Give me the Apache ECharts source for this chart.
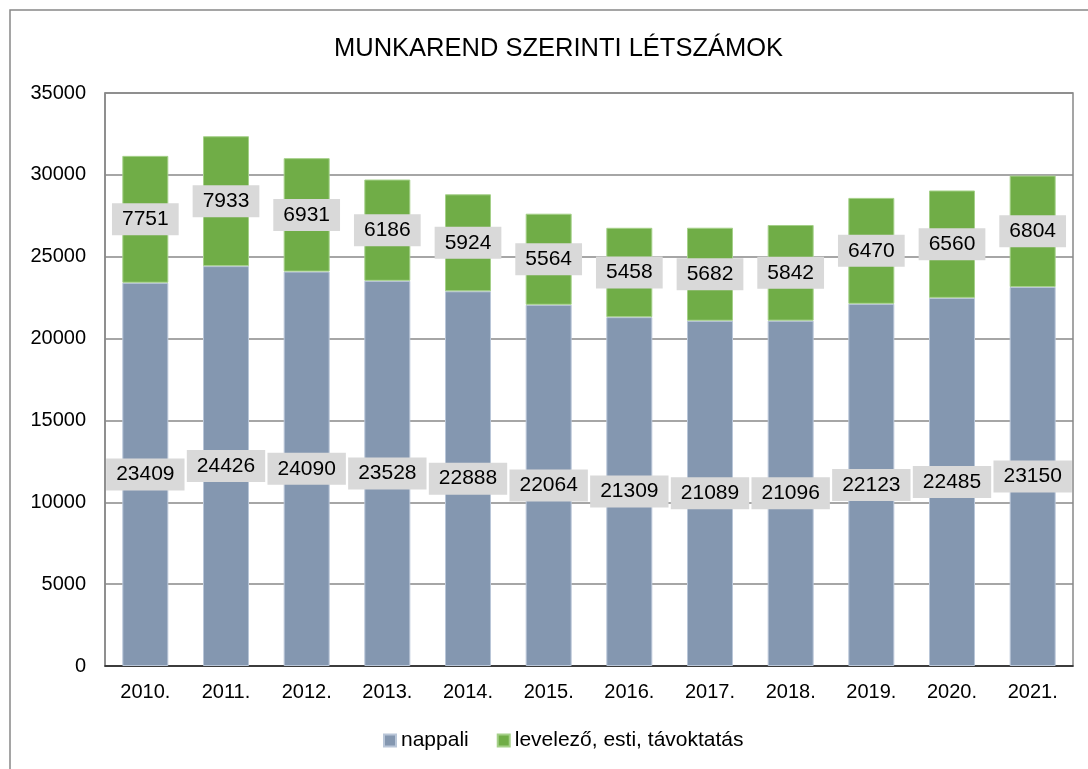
<!DOCTYPE html>
<html>
<head>
<meta charset="utf-8">
<script src="https://cdn.jsdelivr.net/npm/echarts@6/dist/echarts.min.js"></script>
<style>
html,body{margin:0;padding:0;background:#fff;}
#chart{width:1088px;height:769px;}
</style>
</head>
<body>
<div id="chart"></div>
<script>
// évek
var years = ['2010.','2011.','2012.','2013.','2014.','2015.','2016.','2017.','2018.','2019.','2020.','2021.'];
// nappali tagozat
var nappali = [23409,24426,24090,23528,22888,22064,21309,21089,21096,22123,22485,23150];
// levelező, esti, távoktatás
var levelezo = [7751,7933,6931,6186,5924,5564,5458,5682,5842,6470,6560,6804];

var chart = echarts.init(document.getElementById('chart'));
var font = 'Liberation Sans, Arial, sans-serif';
var lbl = {
	show: true, position: 'inside', color: '#000', fontSize: 21, fontFamily: font,
	backgroundColor: '#d9d9d9', padding: [7, 10, 4, 10]
};
var option = {
	animation: false,
	title: {text: 'MUNKAREND SZERINTI LÉTSZÁMOK', left: 329, top: 31,
		textStyle: {fontSize: 25.5, fontWeight: 'normal', color: '#000', fontFamily: font}},
	legend: {left: 378, bottom: 13, itemWidth: 12, itemHeight: 12, itemGap: 28,
		icon: 'rect',
		textStyle: {fontSize: 21, color: '#000', fontFamily: font},
		data: ['nappali', 'levelező, esti, távoktatás']},
	graphic: [{type: 'rect', shape: {x: 10, y: 10, width: 1100, height: 800},
		style: {fill: 'none', stroke: '#888', lineWidth: 1.5}}],
	grid: {left: 105, right: 15, top: 93, bottom: 103, show: true, borderColor: '#888', borderWidth: 1.5},
	xAxis: {type: 'category', data: years,
		axisLine: {lineStyle: {color: '#222', width: 1.5}}, axisTick: {show: false},
		axisLabel: {fontSize: 20, color: '#000', fontFamily: font, margin: 16}},
	yAxis: {type: 'value', min: 0, max: 35000, interval: 5000,
		axisLine: {show: true, lineStyle: {color: '#888', width: 1.5}},
		splitLine: {lineStyle: {color: '#888', width: 1.5}},
		axisLabel: {fontSize: 20, color: '#000', fontFamily: font, margin: 19,
			formatter: function(v){ return String(v); }}},
	series: [
		{name: 'nappali', type: 'bar', stack: 'a', data: nappali, barWidth: '57%',
			itemStyle: {color: '#8497b0', borderColor: '#b9c6d8', borderWidth: 1}, label: lbl},
		{name: 'levelező, esti, távoktatás', type: 'bar', stack: 'a', data: levelezo,
			itemStyle: {color: '#70ad47', borderColor: '#a5d089', borderWidth: 1}, label: lbl}
	]
};
chart.setOption(option);
</script>
</body>
</html>
